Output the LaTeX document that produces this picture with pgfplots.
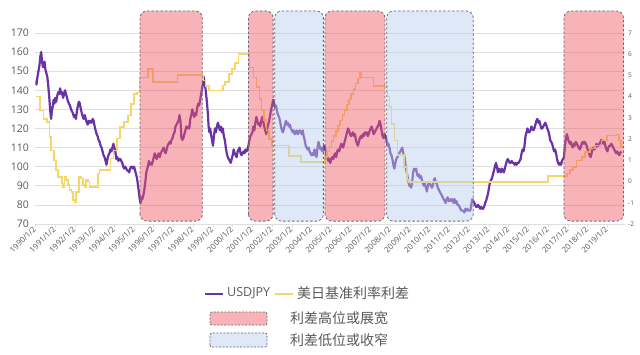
\documentclass[border=0pt]{standalone}
\usepackage{fontspec}
\setmainfont{Open Sans}
\newfontfamily\cjk{Noto Sans CJK SC}
\usepackage{pgfplots}
\usepackage{pgfplotstable}
\pgfplotsset{compat=1.18}
\definecolor{usd}{RGB}{105,50,165}
\definecolor{spr}{RGB}{245,215,105}
\definecolor{pinkf}{RGB}{240,90,100}
\definecolor{bluef}{RGB}{185,205,235}
\definecolor{bord}{RGB}{105,105,115}
\definecolor{txt}{RGB}{89,89,89}
\definecolor{gridc}{RGB}{222,222,222}

\pgfplotstableread{
x y
1990.00 145
1990.05 143
1990.10 147
1990.15 150
1990.20 153
1990.25 158
1990.29 160
1990.33 155
1990.38 152
1990.42 154
1990.46 155
1990.50 151
1990.55 149
1990.60 147
1990.65 142
1990.70 136
1990.75 129
1990.79 125
1990.83 129
1990.88 132
1990.92 135
1990.96 133
1991.00 136
1991.05 134
1991.10 137
1991.15 139
1991.20 138
1991.25 141
1991.30 138
1991.35 139
1991.40 136
1991.45 138
1991.50 140
1991.55 138
1991.60 136
1991.65 134
1991.70 133
1991.75 132
1991.80 130
1991.85 129
1991.90 128
1991.95 126
1992.00 127
1992.05 125
1992.10 129
1992.15 132
1992.20 134
1992.25 133
1992.30 130
1992.35 128
1992.40 126
1992.45 125
1992.50 127
1992.55 125
1992.60 123
1992.65 122
1992.70 124
1992.75 123
1992.80 124
1992.85 123
1992.90 125
1992.95 124
1993.00 121
1993.05 119
1993.10 117
1993.15 116
1993.20 114
1993.25 113
1993.30 111
1993.35 110
1993.40 108
1993.45 106
1993.50 105
1993.55 103
1993.60 101
1993.65 104
1993.70 106
1993.75 107
1993.80 109
1993.85 108
1993.90 110
1993.95 112
1994.00 110
1994.05 108
1994.10 104
1994.15 105
1994.20 103
1994.25 104
1994.30 104
1994.35 103
1994.40 102
1994.45 100
1994.50 99
1994.55 100
1994.60 99
1994.65 98
1994.70 98
1994.75 97
1994.80 99
1994.85 100
1994.90 100
1994.95 99
1995.00 100
1995.05 98
1995.10 96
1995.15 94
1995.20 90
1995.25 86
1995.30 82
1995.33 81
1995.37 84
1995.42 83
1995.47 85
1995.52 88
1995.57 92
1995.62 97
1995.67 99
1995.72 101
1995.75 103
1995.80 101
1995.85 102
1995.90 101
1995.95 103
1996.00 105
1996.05 107
1996.10 105
1996.15 104
1996.20 106
1996.25 107
1996.30 105
1996.35 107
1996.40 108
1996.45 109
1996.50 110
1996.55 108
1996.60 107
1996.65 109
1996.70 111
1996.75 112
1996.80 113
1996.85 112
1996.90 114
1996.95 115
1997.00 117
1997.05 118
1997.10 121
1997.15 122
1997.20 123
1997.25 124
1997.30 127
1997.35 124
1997.40 115
1997.45 114
1997.50 115
1997.55 117
1997.60 119
1997.65 121
1997.70 120
1997.75 121
1997.80 120
1997.85 125
1997.90 127
1997.95 130
1998.00 128
1998.05 126
1998.10 128
1998.15 127
1998.20 131
1998.25 133
1998.30 132
1998.35 135
1998.40 138
1998.45 141
1998.50 144
1998.53 147
1998.57 144
1998.62 141
1998.66 137
1998.70 133
1998.74 128
1998.78 121
1998.82 118
1998.86 120
1998.90 117
1998.95 114
1999.00 111
1999.05 116
1999.10 120
1999.15 118
1999.20 121
1999.25 123
1999.30 121
1999.35 119
1999.40 121
1999.45 118
1999.50 120
1999.55 116
1999.60 114
1999.65 110
1999.70 107
1999.75 105
1999.80 104
1999.85 103
1999.90 102
1999.95 104
2000.00 106
2000.05 109
2000.10 107
2000.15 106
2000.20 105
2000.25 108
2000.30 109
2000.35 110
2000.40 107
2000.45 106
2000.50 107
2000.55 108
2000.60 107
2000.65 109
2000.70 108
2000.75 109
2000.80 111
2000.85 114
2000.90 116
2000.95 117
2001.00 118
2001.05 121
2001.10 119
2001.15 123
2001.20 126
2001.25 124
2001.30 122
2001.35 123
2001.40 121
2001.45 124
2001.50 126
2001.55 124
2001.60 121
2001.65 119
2001.70 117
2001.75 120
2001.80 122
2001.85 124
2001.90 127
2001.95 130
2002.00 132
2002.05 135
2002.10 133
2002.15 131
2002.20 132
2002.25 129
2002.30 127
2002.35 126
2002.40 124
2002.45 121
2002.50 119
2002.55 118
2002.60 120
2002.65 122
2002.70 124
2002.75 122
2002.80 123
2002.85 121
2002.90 122
2002.95 120
2003.00 119
2003.05 118
2003.10 119
2003.15 117
2003.20 118
2003.25 119
2003.30 117
2003.35 118
2003.40 119
2003.45 118
2003.50 117
2003.55 119
2003.60 116
2003.65 114
2003.70 111
2003.75 110
2003.80 109
2003.85 110
2003.90 108
2003.95 107
2004.00 106
2004.05 107
2004.10 106
2004.15 109
2004.20 107
2004.25 105
2004.30 110
2004.35 113
2004.40 111
2004.45 109
2004.50 110
2004.55 108
2004.60 110
2004.65 111
2004.70 109
2004.75 106
2004.80 105
2004.85 103
2004.90 104
2004.95 102
2005.00 104
2005.05 105
2005.10 104
2005.15 106
2005.20 107
2005.25 105
2005.30 108
2005.35 109
2005.40 108
2005.45 110
2005.50 112
2005.55 111
2005.60 110
2005.65 112
2005.70 114
2005.75 116
2005.80 118
2005.85 120
2005.90 119
2005.95 117
2006.00 116
2006.05 117
2006.10 118
2006.15 116
2006.20 117
2006.25 114
2006.30 112
2006.35 111
2006.40 113
2006.45 115
2006.50 116
2006.55 115
2006.60 117
2006.65 116
2006.70 118
2006.75 117
2006.80 118
2006.85 116
2006.90 117
2006.95 119
2007.00 120
2007.05 121
2007.10 119
2007.15 117
2007.20 118
2007.25 119
2007.30 120
2007.35 121
2007.40 122
2007.45 124
2007.50 122
2007.55 119
2007.60 116
2007.65 115
2007.70 117
2007.75 116
2007.80 114
2007.85 111
2007.90 112
2007.95 110
2008.00 107
2008.05 106
2008.10 104
2008.15 101
2008.20 99
2008.25 102
2008.30 104
2008.35 105
2008.40 106
2008.45 107
2008.50 108
2008.55 109
2008.60 110
2008.65 107
2008.70 106
2008.75 102
2008.80 98
2008.85 96
2008.90 93
2008.95 90
2009.00 90
2009.05 89
2009.10 92
2009.15 97
2009.20 99
2009.25 98
2009.30 99
2009.35 96
2009.40 95
2009.45 96
2009.50 94
2009.55 95
2009.60 93
2009.65 91
2009.70 90
2009.75 91
2009.80 89
2009.85 87
2009.90 90
2009.95 92
2010.00 91
2010.05 90
2010.10 89
2010.15 90
2010.20 93
2010.25 94
2010.30 92
2010.35 91
2010.40 89
2010.45 88
2010.50 87
2010.55 86
2010.60 85
2010.65 84
2010.70 83
2010.75 82
2010.80 81
2010.85 83
2010.90 84
2010.95 82
2011.00 82
2011.05 83
2011.10 82
2011.15 83
2011.20 81
2011.25 83
2011.30 81
2011.35 82
2011.40 80
2011.45 80
2011.50 79
2011.55 78
2011.60 77
2011.65 77
2011.70 77
2011.75 76
2011.80 78
2011.85 77
2011.90 78
2011.95 77
2012.00 77
2012.05 77
2012.10 80
2012.15 83
2012.20 82
2012.25 81
2012.30 80
2012.35 79
2012.40 79
2012.45 80
2012.50 79
2012.55 78
2012.60 79
2012.65 78
2012.70 78
2012.75 79
2012.80 81
2012.85 82
2012.90 84
2012.95 86
2013.00 89
2013.05 92
2013.10 93
2013.15 94
2013.20 96
2013.25 98
2013.30 100
2013.35 102
2013.40 100
2013.45 97
2013.50 99
2013.55 98
2013.60 97
2013.65 99
2013.70 98
2013.75 97
2013.80 99
2013.85 101
2013.90 103
2013.95 104
2014.00 103
2014.05 102
2014.10 102
2014.15 103
2014.20 102
2014.25 102
2014.30 101
2014.35 102
2014.40 101
2014.45 102
2014.50 102
2014.55 103
2014.60 104
2014.65 107
2014.70 109
2014.75 108
2014.80 111
2014.85 116
2014.90 118
2014.95 120
2015.00 118
2015.05 118
2015.10 119
2015.15 121
2015.20 120
2015.25 119
2015.30 120
2015.35 122
2015.40 124
2015.45 125
2015.50 123
2015.55 124
2015.60 122
2015.65 120
2015.70 120
2015.75 121
2015.80 122
2015.85 123
2015.90 122
2015.95 120
2016.00 119
2016.05 117
2016.10 114
2016.15 113
2016.20 112
2016.25 110
2016.30 108
2016.35 109
2016.40 107
2016.45 104
2016.50 102
2016.55 101
2016.60 102
2016.65 101
2016.70 103
2016.75 104
2016.80 105
2016.85 111
2016.90 115
2016.95 117
2017.00 115
2017.05 113
2017.10 112
2017.15 113
2017.20 111
2017.25 110
2017.30 112
2017.35 111
2017.40 113
2017.45 112
2017.50 111
2017.55 110
2017.60 109
2017.65 110
2017.70 112
2017.75 113
2017.80 112
2017.85 113
2017.90 112
2017.95 111
2018.00 109
2018.05 108
2018.10 106
2018.15 105
2018.20 107
2018.25 109
2018.30 110
2018.35 109
2018.40 110
2018.45 112
2018.50 111
2018.55 111
2018.60 112
2018.65 113
2018.70 114
2018.75 113
2018.80 112
2018.85 113
2018.90 111
2018.95 109
2019.00 108
2019.05 110
2019.10 111
2019.15 111
2019.20 112
2019.25 111
2019.30 110
2019.35 109
2019.40 108
2019.45 107
2019.50 108
2019.55 107
2019.60 106
2019.65 107
2019.70 108
}\usdjpy

\pgfplotstableread{
x y
1990.00 4.00
1990.22 3.34
1990.40 2.95
1990.57 2.80
1990.70 2.09
1990.80 1.47
1990.95 1.00
1991.05 0.53
1991.15 0.22
1991.33 -0.09
1991.40 -0.25
1991.48 0.22
1991.56 0.06
1991.64 -0.17
1991.72 -0.41
1991.82 -0.48
1991.90 -0.88
1991.98 -0.95
1992.05 -0.48
1992.22 0.22
1992.32 0.14
1992.40 -0.17
1992.48 -0.25
1992.56 0.06
1992.66 0.00
1992.74 -0.25
1993.18 0.38
1993.24 0.53
1993.80 1.08
1993.95 1.47
1994.12 2.02
1994.30 2.56
1994.48 2.80
1994.70 3.11
1994.85 3.66
1994.98 4.13
1995.15 4.20
1995.27 4.90
1995.70 5.31
1995.96 4.70
1997.21 5.03
1998.49 4.75
1998.62 4.50
1998.80 4.28
1999.51 4.52
1999.62 4.70
1999.80 5.07
1999.95 5.31
2000.12 5.59
2000.30 6.02
2000.85 5.37
2001.05 4.90
2001.20 4.44
2001.35 3.90
2001.47 3.34
2001.60 2.90
2001.72 2.41
2001.85 2.00
2001.98 1.70
2002.85 1.20
2003.45 0.92
2004.68 1.16
2004.79 1.41
2004.90 1.65
2005.01 1.90
2005.12 2.15
2005.23 2.39
2005.34 2.64
2005.45 2.88
2005.57 3.13
2005.68 3.38
2005.79 3.62
2005.90 3.87
2006.01 4.11
2006.12 4.36
2006.23 4.61
2006.34 4.85
2006.46 5.10
2006.52 4.91
2007.15 4.50
2007.85 4.00
2007.95 3.50
2008.05 2.70
2008.20 1.94
2008.35 1.25
2008.68 0.69
2008.85 0.06
2008.95 -0.03
2015.98 0.25
2016.94 0.38
2017.11 0.53
2017.27 0.69
2017.44 1.00
2017.70 1.16
2017.87 1.39
2018.12 1.55
2018.37 1.70
2018.71 1.94
2018.97 2.17
2019.47 2.22
2019.60 1.94
2019.70 1.63
2019.78 1.63
}\spread

\begin{document}
\begin{tikzpicture}[x=1pt,y=1pt]
\useasboundingbox (0,0) rectangle (640,354);
\begin{axis}[
  at={(35.5pt,130pt)}, anchor=south west,
  scale only axis, width=589.2pt, height=214pt,
  xmin=1990, xmax=2019.88, ymin=70, ymax=182,
  axis line style={draw=none},
  ytick={70,80,...,170},
  ymajorgrids, grid style={gridc, line width=0.7pt},
  xtick={1990,...,2019},
  xticklabels={1990/1/2,1991/1/2,1992/1/2,1993/1/2,1994/1/2,1995/1/2,1996/1/2,1997/1/2,1998/1/2,1999/1/2,2000/1/2,2001/1/2,2002/1/2,2003/1/2,2004/1/2,2005/1/2,2006/1/2,2007/1/2,2008/1/2,2009/1/2,2010/1/2,2011/1/2,2012/1/2,2013/1/2,2014/1/2,2015/1/2,2016/1/2,2017/1/2,2018/1/2,2019/1/2},
  xtick pos=left, ytick pos=left,
  xtick style={draw=gridc, line width=0.6pt},
  major tick length=3pt, tick align=outside,
  ytick style={draw=none},
  x tick label style={rotate=45, anchor=east, font=\fontsize{8}{9}\selectfont, text=txt, inner sep=1pt},
  y tick label style={font=\fontsize{10.5}{12}\selectfont, text=txt},
  /pgf/number format/assume math mode=true,
]
\addplot[usd, line width=2.2pt, line join=round] table {\usdjpy};
\end{axis}
\begin{axis}[
  at={(35.5pt,130pt)}, anchor=south west,
  scale only axis, width=589.2pt, height=214pt,
  xmin=1990, xmax=2019.88, ymin=-2, ymax=8.08,
  axis x line=none, axis y line*=right,
  axis line style={draw=none},
  ytick={-2,-1,...,7}, ytick style={draw=none},
  y tick label style={font=\fontsize{6.5}{7}\selectfont, text=txt},
  /pgf/number format/assume math mode=true,
]
\addplot[const plot, spr, line width=1.6pt] table {\spread};
\tikzset{reg/.style={draw=bord, dash pattern=on 2.5pt off 2pt, line width=0.8pt, rounded corners=7pt, fill opacity=0.46}}
\draw[reg, fill=pinkf] (axis cs:1995.30,-1.865) rectangle (axis cs:1998.46,8.035);
\draw[reg, fill=pinkf] (axis cs:2000.80,-1.865) rectangle (axis cs:2002.05,8.035);
\draw[reg, fill=bluef] (axis cs:2002.13,-1.865) rectangle (axis cs:2004.60,8.035);
\draw[reg, fill=pinkf] (axis cs:2004.68,-1.865) rectangle (axis cs:2007.72,8.035);
\draw[reg, fill=bluef] (axis cs:2007.81,-1.865) rectangle (axis cs:2012.20,8.035);
\draw[reg, fill=pinkf] (axis cs:2016.80,-1.865) rectangle (axis cs:2019.82,8.035);
\end{axis}
% legend
\draw[usd, line width=2pt] (205,60) -- (223,60);
\node[anchor=west, inner sep=0pt, text=txt, font=\fontsize{12.5}{14}\selectfont] at (227,61) {USDJPY};
\draw[spr, line width=2pt] (275,60) -- (293,60);
\node[anchor=west, inner sep=0pt, text=txt, font=\cjk\fontsize{14}{16}\selectfont] at (297,61) {美日基准利率利差};
\draw[draw=bord, dash pattern=on 2pt off 1.5pt, line width=0.7pt, rounded corners=2pt, fill=pinkf, fill opacity=0.46] (210,29) rectangle (267,42);
\node[anchor=west, inner sep=0pt, text=txt, font=\cjk\fontsize{14}{16}\selectfont] at (290,36) {利差高位或展宽};
\draw[draw=bord, dash pattern=on 2pt off 1.5pt, line width=0.7pt, rounded corners=2pt, fill=bluef, fill opacity=0.46] (210,7) rectangle (267,21);
\node[anchor=west, inner sep=0pt, text=txt, font=\cjk\fontsize{14}{16}\selectfont] at (290,14) {利差低位或收窄};
\end{tikzpicture}
\end{document}
